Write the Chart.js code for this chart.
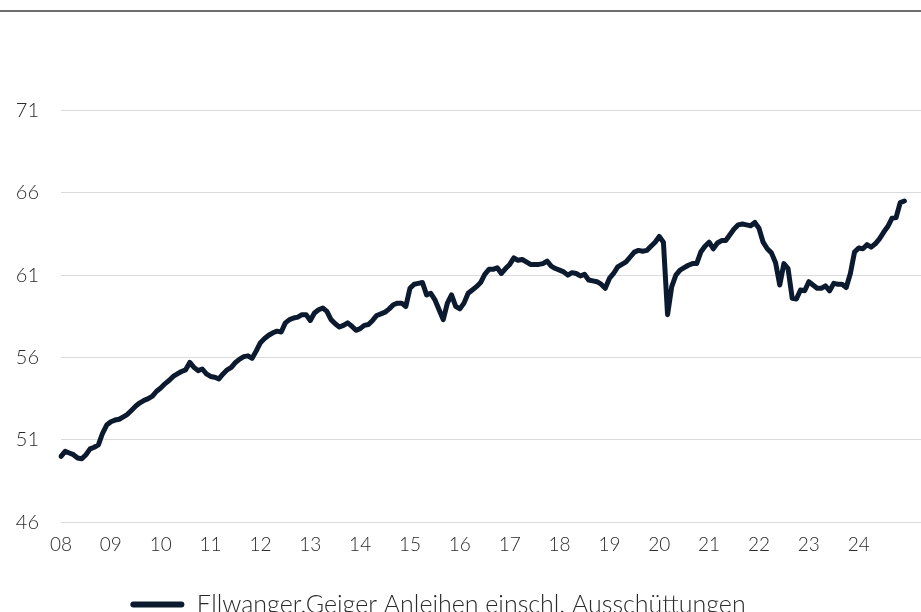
<!DOCTYPE html>
<html lang="de">
<head>
<meta charset="utf-8">
<title>Ellwanger.Geiger Anleihen</title>
<script src="https://cdn.jsdelivr.net/npm/chart.js@4.4.1/dist/chart.umd.min.js"></script>
<style>
  html, body { margin: 0; padding: 0; background: #fff; overflow: hidden; }
  /* canvas is a bit wider on the left so the legend sits where the original has it */
  .chart-wrap { position: absolute; left: -45px; top: 0; width: 966px; height: 627px; }
  .top-rule { position: absolute; left: 0; top: 10px; width: 921px; border-top: 2px solid #6e6e6e; }
</style>
</head>
<body>
<div class="chart-wrap"><canvas id="bondChart" width="966" height="627"></canvas></div>
<div class="top-rule"></div>
<script>
// ===================================
// Data
// ===================================
const seriesName = "Ellwanger.Geiger Anleihen einschl. Ausschüttungen";
const yearLabels = ["08", "09", "10", "11", "12", "13", "14", "15", "16", "17", "18", "19", "20", "21", "22", "23", "24"];
const extraMonths = 4; // empty room right of the last value
const yTicks = [46, 51, 56, 61, 66, 71];
const yMin = 46;
const yMax = 74;

// monthly values, one row per year (Jan..Dec)
const bondValues = [
  50.0, 50.3, 50.2, 50.1, 49.9, 49.85, 50.1, 50.45, 50.55, 50.7, 51.4, 51.9,
  52.1, 52.2, 52.25, 52.4, 52.55, 52.8, 53.05, 53.25, 53.4, 53.5, 53.65, 53.95,
  54.15, 54.4, 54.6, 54.85, 55.0, 55.15, 55.25, 55.7, 55.4, 55.2, 55.3, 55.0,
  54.85, 54.8, 54.7, 55.0, 55.25, 55.4, 55.7, 55.9, 56.05, 56.1, 55.95, 56.4,
  56.9, 57.15, 57.35, 57.5, 57.6, 57.55, 58.1, 58.3, 58.4, 58.45, 58.6, 58.6,
  58.25, 58.7, 58.9, 59.0, 58.8, 58.3, 58.05, 57.85, 57.95, 58.1, 57.9, 57.65,
  57.75, 57.95, 58.0, 58.25, 58.55, 58.65, 58.75, 58.95, 59.2, 59.3, 59.3, 59.1,
  60.2, 60.45, 60.5, 60.55, 59.8, 59.9, 59.5, 58.9, 58.3, 59.3, 59.8, 59.1,
  58.95, 59.3, 59.9, 60.1, 60.3, 60.55, 61.05, 61.35, 61.35, 61.45, 61.1, 61.4,
  61.65, 62.05, 61.9, 61.95, 61.8, 61.65, 61.65, 61.65, 61.7, 61.85, 61.55, 61.4,
  61.3, 61.2, 61.0, 61.15, 61.1, 60.95, 61.05, 60.7, 60.65, 60.6, 60.45, 60.2,
  60.8, 61.1, 61.5, 61.65, 61.8, 62.1, 62.4, 62.5, 62.45, 62.5, 62.75, 63.0,
  63.35, 63.0, 58.6, 60.3, 61.0, 61.3, 61.45, 61.6, 61.7, 61.7, 62.4, 62.75,
  63.0, 62.6, 62.95, 63.1, 63.1, 63.45, 63.8, 64.05, 64.1, 64.05, 64.0, 64.2,
  63.85, 63.0, 62.6, 62.35, 61.75, 60.4, 61.7, 61.4, 59.6, 59.55, 60.1, 60.05,
  60.6, 60.4, 60.2, 60.2, 60.35, 60.05, 60.5, 60.45, 60.45, 60.25, 61.1, 62.4,
  62.65, 62.6, 62.85, 62.7, 62.9, 63.2, 63.6, 63.95, 64.45, 64.5, 65.4, 65.5,
];

// ===================================
// Styles
// ===================================
const LINE_COLOR = "#0b1a2e";
const GRID_COLOR = "#dadada";
const TEXT_COLOR = "#2a2a2a";
const FONT_FAMILY = "Lato, 'Open Sans', sans-serif";
const CANVAS_SHIFT = 45; // px of canvas hidden left of the window

// ===================================
// Build categories (one per month)
// ===================================
function buildMonthLabels() {
  const labels = [];
  yearLabels.forEach((yy) => {
    for (let m = 1; m <= 12; m++) {
      labels.push(yy + "-" + m);
    }
  });
  for (let m = 1; m <= extraMonths; m++) {
    labels.push("25-" + m);
  }
  return labels;
}

// ===================================
// Initialize Chart
// ===================================
document.addEventListener("DOMContentLoaded", function () {
  const monthLabels = buildMonthLabels();
  const ctx = document.getElementById("bondChart").getContext("2d");

  new Chart(ctx, {
    type: "line",
    data: {
      labels: monthLabels,
      datasets: [
        {
          label: seriesName,
          data: bondValues,
          borderColor: LINE_COLOR,
          backgroundColor: LINE_COLOR,
          borderWidth: 5,
          borderJoinStyle: "round",
          borderCapStyle: "round",
          pointRadius: 0,
          tension: 0,
          fill: false,
        },
      ],
    },
    options: {
      responsive: false,
      animation: false,
      layout: {
        padding: { left: 0, right: 0, top: 61, bottom: 0 },
      },
      plugins: {
        tooltip: { enabled: false },
        legend: {
          position: "bottom",
          align: "center",
          labels: {
            color: TEXT_COLOR,
            font: { family: FONT_FAMILY, size: 25, weight: "300" },
            boxWidth: 54,
            boxHeight: 6,
            padding: 33,
            useBorderRadius: true,
            borderRadius: 3,
            generateLabels: function (chart) {
              return Chart.defaults.plugins.legend.labels
                .generateLabels(chart)
                .map((l) => ({ ...l, lineWidth: 0 }));
            },
          },
        },
      },
      scales: {
        x: {
          type: "category",
          offset: false,
          grid: { display: false },
          border: { display: false },
          ticks: {
            autoSkip: false,
            maxRotation: 0,
            padding: 3,
            color: TEXT_COLOR,
            font: { family: FONT_FAMILY, size: 19, weight: "300" },
            callback: function (value, index) {
              if (index % 12 === 0 && index / 12 < yearLabels.length) {
                return yearLabels[index / 12];
              }
              return null;
            },
          },
        },
        y: {
          min: yMin,
          max: yMax,
          afterBuildTicks: function (axis) {
            axis.ticks = yTicks.map((v) => ({ value: v }));
          },
          afterFit: function (axis) {
            axis.width = CANVAS_SHIFT + 61;
          },
          grid: { color: GRID_COLOR, lineWidth: 1, drawTicks: false },
          border: { display: false },
          ticks: {
            padding: 22,
            color: TEXT_COLOR,
            font: { family: FONT_FAMILY, size: 20, weight: "300" },
          },
        },
      },
    },
  });
});
</script>
</body>
</html>
